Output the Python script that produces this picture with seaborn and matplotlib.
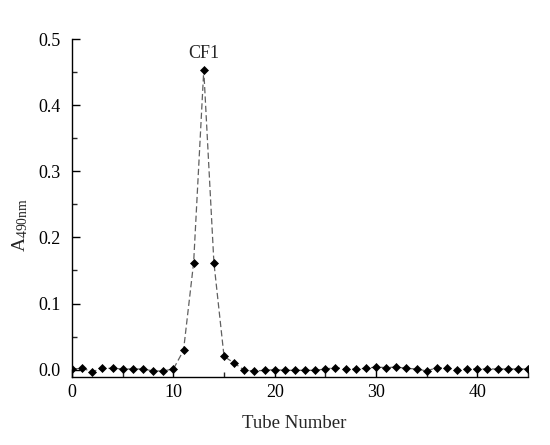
import numpy as np
import pandas as pd
import matplotlib
matplotlib.use("Agg")
import matplotlib.pyplot as plt
import seaborn as sns
from matplotlib.ticker import MultipleLocator

tube = list(range(0, 46))
absorbance = [0.001, 0.002, -0.003, 0.002, 0.002, 0.001, 0.001, 0.001, -0.002, -0.002,
              0.001, 0.029, 0.162, 0.453, 0.162, 0.020, 0.010, -0.001, -0.002, -0.001,
              0.000, -0.001, -0.001, -0.001, -0.001, 0.001, 0.003, 0.001, 0.001, 0.002,
              0.004, 0.003, 0.004, 0.002, 0.001, -0.002, 0.003, 0.002, 0.000, 0.001,
              0.001, 0.001, 0.001, 0.001, 0.001, 0.001]
peak_label = "CF1"
xlabel = "Tube Number"
ylabel = r"A$_{\mathregular{490nm}}$"

df = pd.DataFrame({"tube": tube, "A": absorbance})

sns.set_style("ticks")
plt.rcParams["font.family"] = ["Liberation Serif", "DejaVu Serif"]
plt.rcParams["mathtext.fontset"] = "custom"
plt.rcParams["mathtext.rm"] = "Liberation Serif"
plt.rcParams["mathtext.it"] = "Liberation Serif"

fig = plt.figure(figsize=(5.5, 4.45), dpi=100)
ax = fig.add_axes([0.131, 0.153, 0.829, 0.759])

sns.lineplot(data=df, x="tube", y="A", ax=ax, color="#606060", linestyle=(0, (5, 2.5)),
             linewidth=0.9, marker="D", markersize=4.5, markerfacecolor="black",
             markeredgecolor="black", markeredgewidth=0.5)

ax.set_xlim(0, 45)
ax.set_ylim(-0.011, 0.5)
ax.xaxis.set_major_locator(MultipleLocator(10))
ax.xaxis.set_minor_locator(MultipleLocator(5))
ax.yaxis.set_major_locator(MultipleLocator(0.1))
ax.yaxis.set_minor_locator(MultipleLocator(0.05))
ax.yaxis.set_major_formatter(matplotlib.ticker.FormatStrFormatter("%.1f"))
ax.tick_params(axis="both", which="major", direction="in", length=6, width=1,
               labelsize=13, colors="black")
ax.tick_params(axis="both", which="minor", direction="in", length=3.5, width=1)
ax.tick_params(axis="x", pad=5)
ax.tick_params(axis="y", pad=8)

for s in ["top", "right"]:
    ax.spines[s].set_visible(False)
for s in ["left", "bottom"]:
    ax.spines[s].set_color("black")
    ax.spines[s].set_linewidth(1)

ax.set_xlabel(xlabel, fontsize=13.5)
ax.set_ylabel(ylabel, fontsize=14)
ax.xaxis.set_label_coords(0.487, -0.113)
ax.yaxis.set_label_coords(-0.092, 0.45)

ax.annotate(peak_label, xy=(tube[13], absorbance[13]), xytext=(0, 6),
            textcoords="offset points", ha="center", va="bottom", fontsize=13)

fig.savefig("out.png", dpi=100)
